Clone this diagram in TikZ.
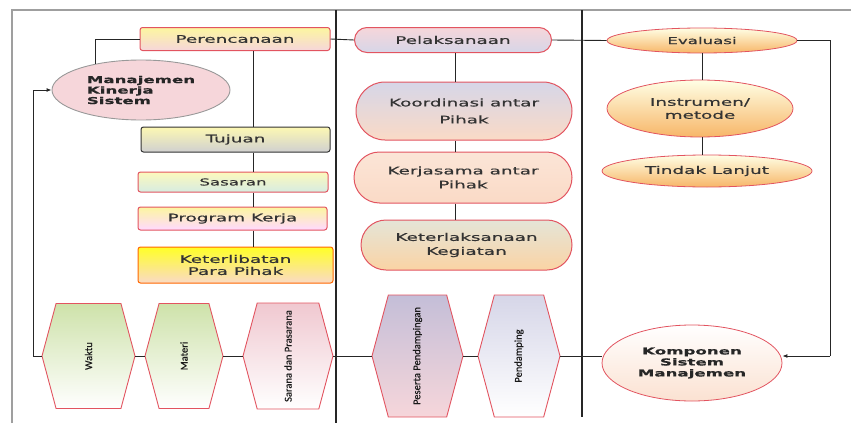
\documentclass[tikz,border=0pt]{standalone}
\usepackage{fontspec}
\usepackage{xcolor}
\usepackage{graphicx}
\usetikzlibrary{shapes.geometric,shapes.misc,shapes.symbols,arrows.meta}

\newfontfamily\boxfont[FakeStretch=1.75,FakeBold=0.6]{DejaVu Sans}
\newfontfamily\hexfont[FakeBold=0.4]{Carlito}

\definecolor{edgered}{RGB}{226,84,96}
\definecolor{softyellow}{RGB}{252,246,160}
\definecolor{softpink}{RGB}{246,214,218}
\definecolor{softgray}{RGB}{208,208,208}
\definecolor{softteal}{RGB}{214,236,226}
\definecolor{softpeach}{RGB}{250,218,198}
\definecolor{softlav}{RGB}{214,214,232}
\definecolor{softorange}{RGB}{247,182,104}
\definecolor{softgreen}{RGB}{206,226,170}
\definecolor{hexpink}{RGB}{240,200,208}
\definecolor{hexlav}{RGB}{196,190,216}

\tikzset{
	link/.style={line width=0.9pt, black!85},
	frameline/.style={line width=1.4pt, gray!75},
	divline/.style={line width=1.1pt, black!85},
	txt/.style={font=\boxfont\fontsize{10.5}{14}\selectfont, text=black!80, align=center, inner sep=1pt},
	planbox/.style={txt, rectangle, rounded corners=2.5pt, draw=edgered, line width=1pt},
	pillbox/.style={txt, rounded rectangle, draw=edgered, line width=1pt},
	evalbox/.style={txt, ellipse, draw=edgered, line width=0.8pt, top color=yellow!10, bottom color=softorange},
	hexbox/.style={signal, signal to=east and west, signal pointer angle=150, draw=edgered, line width=0.9pt,
		font=\hexfont\fontsize{10.5}{12}\selectfont, text=black!90, inner sep=1pt, bottom color=white},
}

\begin{document}
\begin{tikzpicture}[x=1pt,y=-1pt]
	\useasboundingbox (0,0) rectangle (851,423);
	
	%frame
	\draw[frameline] (12,423) -- (12,10) -- (851,10);
	\draw[divline] (336,10) -- (336,423);
	\draw[divline] (582,10) -- (582,417);
	
	%planning column
	\node[planbox, minimum width=190pt, minimum height=23pt, top color=softyellow, bottom color=softpink] (plan) at (235,39) {Perencanaan};
	\node[txt, ellipse, draw=gray!80, line width=0.9pt, fill=softpink, minimum width=178pt, minimum height=60pt,
		align=left, font=\boxfont\bfseries\fontsize{9.5}{10.5}\selectfont, text=black!85] (manaj) at (141,90) {Manajemen\\Kinerja\\Sistem};
	\node[planbox, draw=black!80, minimum width=189pt, minimum height=25pt, top color=softyellow!80, bottom color=softgray] (tujuan) at (235.5,139.5) {Tujuan};
	\node[planbox, minimum width=190pt, minimum height=20pt, top color=softyellow!70, bottom color=softteal, font=\boxfont\fontsize{9.5}{12}\selectfont] (sasaran) at (233,182) {Sasaran};
	\node[planbox, minimum width=189pt, minimum height=23pt, top color=softyellow, bottom color=magenta!15] (program) at (232.5,218.5) {Program Kerja};
	\node[planbox, draw=orange!80!red, minimum width=195pt, minimum height=36pt, top color=yellow!85, bottom color=softpeach,
		font=\boxfont\fontsize{10.5}{12}\selectfont] (libat) at (235.5,265) {Keterlibatan\\Para Pihak};
	
	%implementation column
	\node[pillbox, minimum width=199pt, minimum height=25pt, top color=softpink, bottom color=softlav] (pelak) at (453,40) {Pelaksanaan};
	\node[pillbox, minimum width=218pt, minimum height=58pt, top color=softlav, bottom color=softpeach, font=\boxfont\fontsize{10.5}{17}\selectfont] (koord) at (464,111) {Koordinasi antar\\Pihak};
	\node[pillbox, minimum width=220pt, minimum height=51pt, top color=softpeach!70, bottom color=softpeach] (kerja) at (463,177.5) {Kerjasama antar\\Pihak};
	\node[pillbox, minimum width=213pt, minimum height=50pt, top color=softteal!60!softpeach, bottom color=softorange!60] (laksana) at (466.5,245) {Keterlaksanaan\\Kegiatan};
	
	%evaluation column
	\node[evalbox, minimum width=190pt, minimum height=25pt, font=\boxfont\fontsize{9.5}{12}\selectfont] (eval) at (702,40.5) {Evaluasi};
	\node[evalbox, minimum width=186pt, minimum height=57pt, font=\boxfont\fontsize{10.5}{13}\selectfont] (instr) at (700,108.5) {Instrumen/\\metode};
	\node[evalbox, minimum width=210pt, minimum height=32pt] (tindak) at (707,171) {Tindak Lanjut};
	
	%components
	\node[hexbox, minimum width=93pt, minimum height=105pt, top color=softgreen] (waktu) at (88.5,356) {\rotatebox{90}{Waktu}};
	\node[hexbox, minimum width=78pt, minimum height=105pt, top color=softgreen] (materi) at (184,356) {\rotatebox{90}{Materi}};
	\node[hexbox, minimum width=90pt, minimum height=106pt, top color=hexpink] (sarana) at (288,356) {\rotatebox{90}{Sarana dan Prasarana}};
	\node[hexbox, minimum width=91pt, minimum height=122pt, top color=hexlav, bottom color=softpink] (peserta) at (417.5,356) {\rotatebox{90}{Peserta Pendampingan}};
	\node[hexbox, minimum width=82pt, minimum height=122pt, top color=softlav] (pend) at (519,356) {\rotatebox{90}{Pendamping}};
	\node[txt, ellipse, draw=edgered, line width=0.8pt, top color=white, bottom color=softpeach!80, minimum width=180pt, minimum height=76pt,
		font=\boxfont\bfseries\fontsize{9.5}{11}\selectfont, text=black!85] (komp) at (692,363) {Komponen\\Sistem\\Manajemen};
	
	%trunks
	\coordinate (ptrunk) at (253,0);
	\coordinate (mtrunk) at (455,0);
	\coordinate (etrunk) at (702,0);
	\coordinate (lbot) at (33,356);
	\coordinate (rbot) at (830,356);
	
	%links
	\draw[link] (manaj.150) |- (plan.west);
	\draw[link] (plan.east) -- (pelak.west);
	\draw[link] (pelak.east) -- (eval.west);
	\draw[link] (plan.south -| ptrunk) -- (tujuan.north -| ptrunk);
	\draw[link] (tujuan.south -| ptrunk) -- (sasaran.north -| ptrunk);
	\draw[link] (sasaran.south -| ptrunk) -- (program.north -| ptrunk);
	\draw[link] (program.south -| ptrunk) -- (libat.north -| ptrunk);
	\draw[link] (pelak.south -| mtrunk) -- (koord.north -| mtrunk);
	\draw[link] (koord.south -| mtrunk) -- (kerja.north -| mtrunk);
	\draw[link] (kerja.south -| mtrunk) -- (laksana.north -| mtrunk);
	\draw[link] (eval.south -| etrunk) -- (instr.north -| etrunk);
	\draw[link] (instr.south -| etrunk) -- (tindak.north -| etrunk);
	\draw[link] (waktu.east) -- (materi.west);
	\draw[link] (materi.east) -- (sarana.west);
	\draw[link] (sarana.east) -- (peserta.west);
	\draw[link] (peserta.east) -- (pend.west);
	\draw[link] (pend.east) -- (pend.east -| komp.west);
	\draw[link] (waktu.west) -- (lbot);
	\draw[link, -{Latex[length=5pt,width=4pt]}] (lbot) |- (manaj.west);
	\draw[link] (eval.east) -| (rbot);
	\draw[link, -{Latex[length=5pt,width=4pt]}] (rbot) -- (rbot -| komp.east);
	
\end{tikzpicture}
\end{document}
